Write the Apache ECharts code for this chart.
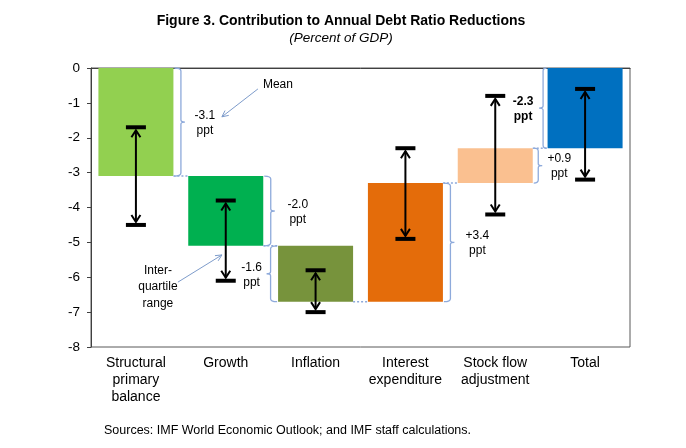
<!DOCTYPE html>
<html><head><meta charset="utf-8">
<script src="https://cdn.jsdelivr.net/npm/echarts@6/dist/echarts.min.js"></script>
<style>html,body{margin:0;padding:0;background:#fff}#c{width:686px;height:448px}</style>
</head><body><div id="c"></div>
<script>
// ---- data ----
const categories = ['Structural\nprimary\nbalance', 'Growth', 'Inflation', 'Interest\nexpenditure', 'Stock flow\nadjustment', 'Total'];
const barStart = [0, -3.1, -5.1, -6.7, -3.3, 0];
const barEnd = [-3.1, -5.1, -6.7, -3.3, -2.3, -2.3];
const iqrHigh = [-1.7, -3.8, -5.8, -2.3, -0.8, -0.6];
const iqrLow = [-4.5, -6.1, -7.0, -4.9, -4.2, -3.2];
const changeLabels = ['-3.1', '-2.0', '-1.6', '+3.4', '+0.9', '-2.3'];
const yMin = -8, yMax = 0, yStep = 1;

// ---- styles / layout ----
const barColors = ['#92D050', '#00B050', '#77933C', '#E46C0A', '#FAC090', '#0070C0'];
const braceSide = [1, 1, -1, 1, 1, -1];
const braceOffset = [45, 45, 45, 45, 43, 42];
const labelDx = [69, 72, -64, 72, 64, -62];
const BW = 0.835;
const braceColor = '#8EAADB';
const FONT = '"Liberation Sans", Arial, sans-serif';

const chart = echarts.init(document.getElementById('c'));

function barRender(params, api) {
  const i = api.value(0);
  const p1 = api.coord([i, api.value(1)]);
  const p2 = api.coord([i, api.value(2)]);
  const w = api.size([1, 0])[0] * BW;
  return {
    type: 'rect',
    shape: { x: p1[0] - w / 2, y: Math.min(p1[1], p2[1]), width: w, height: Math.abs(p2[1] - p1[1]) },
    style: { fill: barColors[i] }
  };
}

function errRender(params, api) {
  const i = api.value(0);
  const ph = api.coord([i, api.value(1)]);
  const pl = api.coord([i, api.value(2)]);
  const x = ph[0];
  const s = { stroke: '#000', lineWidth: 2, fill: null };
  return {
    type: 'group',
    children: [
      { type: 'line', shape: { x1: x, y1: ph[1] + 3, x2: x, y2: pl[1] - 3 }, style: s },
      { type: 'polyline', shape: { points: [[x - 4.5, ph[1] + 10], [x, ph[1] + 3], [x + 4.5, ph[1] + 10]] }, style: s },
      { type: 'polyline', shape: { points: [[x - 4.5, pl[1] - 10], [x, pl[1] - 3], [x + 4.5, pl[1] - 10]] }, style: s },
      { type: 'line', shape: { x1: x - 10, y1: ph[1], x2: x + 10, y2: ph[1] }, style: { stroke: '#000', lineWidth: 4 } },
      { type: 'line', shape: { x1: x - 10, y1: pl[1], x2: x + 10, y2: pl[1] }, style: { stroke: '#000', lineWidth: 4 } }
    ]
  };
}

function braceRender(params, api) {
  const i = api.value(0);
  const pa = api.coord([i, api.value(1)]);
  const pb = api.coord([i, api.value(2)]);
  const cx = pa[0];
  const sd = braceSide[i];
  const w = api.size([1, 0])[0] * BW;
  const x0 = cx + sd * (w / 2 + 1);
  const xv = cx + sd * braceOffset[i];
  const tip = xv + sd * 4;
  const yt = Math.min(pa[1], pb[1]), yb = Math.max(pa[1], pb[1]);
  const ym = (yt + yb) / 2;
  const d = `M${x0} ${yt} Q${xv} ${yt} ${xv} ${yt + 3} L${xv} ${ym - 2} Q${xv} ${ym} ${tip} ${ym} Q${xv} ${ym} ${xv} ${ym + 2} L${xv} ${yb - 3} Q${xv} ${yb} ${x0} ${yb}`;
  return {
    type: 'group',
    children: [
      { type: 'path', shape: { pathData: d }, style: { stroke: braceColor, lineWidth: 1.3, fill: null } },
      {
        type: 'text',
        style: {
          text: changeLabels[i] + '\nppt', x: cx + labelDx[i], y: ym + 1,
          align: 'center', verticalAlign: 'middle', lineHeight: 15,
          font: (i === 5 ? 'bold ' : '') + '12px ' + FONT, fill: '#000'
        }
      }
    ]
  };
}

function connRender(params, api) {
  const i = api.value(0);
  const v = api.value(1);
  const pa = api.coord([i, v]);
  const pb = api.coord([i + 1, v]);
  const w = api.size([1, 0])[0] * BW;
  return {
    type: 'line',
    shape: { x1: pa[0] + w / 2, y1: pa[1], x2: pb[0] - w / 2, y2: pb[1] },
    style: { stroke: braceColor, lineWidth: 1.5, lineDash: [2, 2] }
  };
}

function arrow(x1, y1, x2, y2, color) {
  const a = Math.atan2(y2 - y1, x2 - x1);
  const L = 7, sp = 0.45;
  return [
    { type: 'line', shape: { x1, y1, x2, y2 }, style: { stroke: color, lineWidth: 1 } },
    { type: 'polyline', shape: { points: [[x2 - L * Math.cos(a - sp), y2 - L * Math.sin(a - sp)], [x2, y2], [x2 - L * Math.cos(a + sp), y2 - L * Math.sin(a + sp)]] }, style: { stroke: color, lineWidth: 1, fill: null } }
  ];
}

function annRender(params, api) {
  const c = (cat, v, dx) => { const p = api.coord([cat, v]); return [p[0] + dx, p[1]]; };
  const col = '#7E9CCB';
  const mt = c(0, -0.49, 127);
  const m1 = c(0, -0.60, 122), m2 = c(0, -1.40, 86);
  const it = c(0, -6.28, 22);
  const i1 = c(0, -6.14, 42), i2 = c(0, -5.36, 86);
  return {
    type: 'group',
    children: [
      { type: 'text', style: { text: 'Mean', x: mt[0], y: mt[1], align: 'left', verticalAlign: 'middle', font: '12px ' + FONT, fill: '#000' } },
      { type: 'text', style: { text: 'Inter-\nquartile\nrange', x: it[0], y: it[1], align: 'center', verticalAlign: 'middle', lineHeight: 16.5, font: '12px ' + FONT, fill: '#000' } }
    ].concat(arrow(m1[0], m1[1], m2[0], m2[1], col), arrow(i1[0], i1[1], i2[0], i2[1], col))
  };
}

const option = {
  animation: false,
  backgroundColor: '#fff',
  title: [
    {
      text: 'Figure 3. Contribution to Annual Debt Ratio Reductions',
      subtext: '(Percent of GDP)',
      left: 336, top: 9, textAlign: 'center', itemGap: 3,
      textStyle: { fontFamily: FONT, fontSize: 14, fontWeight: 'bold', color: '#000' },
      subtextStyle: { fontFamily: FONT, fontSize: 13.5, fontStyle: 'italic', color: '#000' }
    },
    {
      text: 'Sources: IMF World Economic Outlook; and IMF staff calculations.',
      left: 99, top: 419,
      textStyle: { fontFamily: FONT, fontSize: 12.5, fontWeight: 'normal', color: '#000' }
    }
  ],
  grid: { left: 91, right: 56, top: 68, bottom: 101, show: true, borderColor: '#595959', borderWidth: 1 },
  xAxis: {
    type: 'category', data: categories,
    axisLine: { lineStyle: { color: '#404040', width: 1 } },
    axisTick: { show: false },
    axisLabel: { interval: 0, margin: 8, fontFamily: FONT, fontSize: 14, lineHeight: 17, color: '#000' }
  },
  yAxis: {
    type: 'value', min: yMin, max: yMax, interval: yStep,
    axisLine: { show: true, lineStyle: { color: '#404040', width: 1 } },
    axisTick: { show: true, length: 4, lineStyle: { color: '#404040' } },
    splitLine: { show: false },
    axisLabel: { margin: 11, fontFamily: FONT, fontSize: 13.5, color: '#000' }
  },
  series: [
    { type: 'custom', name: 'bars', renderItem: barRender, data: categories.map((c, i) => [i, barStart[i], barEnd[i]]), z: 2 },
    { type: 'custom', name: 'connectors', renderItem: connRender, data: barEnd.slice(0, 5).map((v, i) => [i, v]), z: 3 },
    { type: 'custom', name: 'braces', renderItem: braceRender, data: categories.map((c, i) => [i, barStart[i], barEnd[i]]), z: 3 },
    { type: 'custom', name: 'iqr', renderItem: errRender, data: categories.map((c, i) => [i, iqrHigh[i], iqrLow[i]]), z: 4 },
    { type: 'custom', name: 'annotations', renderItem: annRender, data: [[0, 0]], z: 5 }
  ]
};
chart.setOption(option);
</script>
</body></html>
